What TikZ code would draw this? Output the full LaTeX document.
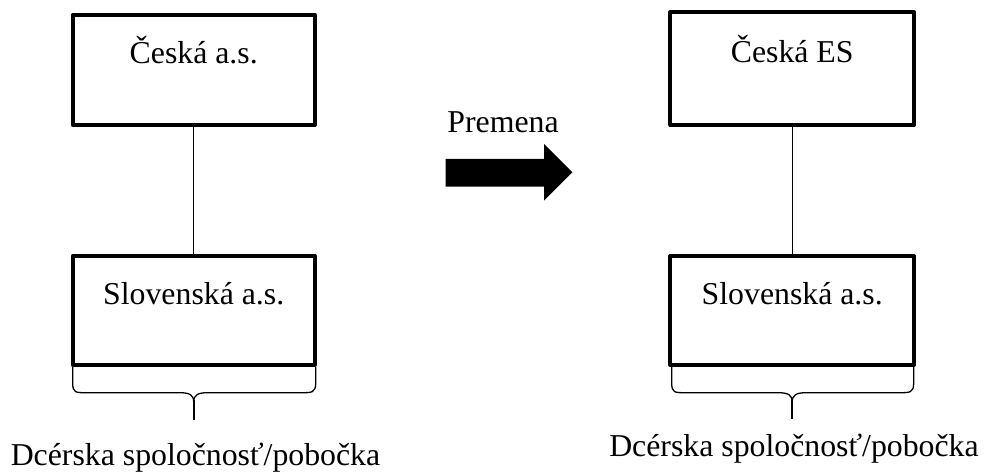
\documentclass[tikz,border=0pt]{standalone}
\usepackage{fontspec}
\setmainfont{Liberation Serif}
\usetikzlibrary{calc}
\tikzset{
  orgbox/.style={draw=black, line width=4pt, line join=round, inner sep=0pt, fill=white},
  txt/.style={inner sep=0pt, anchor=base, font=\fontsize{31.8}{38}\selectfont},
  link/.style={draw=black, line width=1.3pt},
  bracel/.style={draw=black, line width=1.3pt},
  bracetail/.style={draw=black, line width=2pt},
}
\begin{document}
\begin{tikzpicture}[x=1pt,y=-1pt]
\useasboundingbox[fill=white] (0,0) rectangle (984,473);
% left group
\node[orgbox, minimum width=242pt, minimum height=110pt] (ca) at (193.7,70) {};
\node[orgbox, minimum width=242pt, minimum height=109pt] (sa) at (193.7,310.5) {};
\node[txt] (cat) at (193.7,64) {Česká a.s.};
\node[txt] (sat) at (193.7,304) {Slovenská a.s.};
\draw[link] (ca.south) -- (sa.north);
\begin{scope}[shift={(sa.south)}]
  \draw[bracel] (-121,0) -- (-121,16) .. controls (-121,25.7) and (-118,25.7) .. (-108,25.7) -- (-14,25.7) .. controls (-4,25.7) and (0,28) .. (0,35);
  \draw[bracel] (0,35) .. controls (0,28) and (4,25.7) .. (14,25.7) -- (108,25.7) .. controls (118,25.7) and (122,25.7) .. (122,16) -- (122,0);
  \draw[bracetail] (0,33) -- (0,53);
\end{scope}
\node[txt] (dl) at (195.5,465) {Dcérska spoločnosť/pobočka};
% arrow
\node[txt] (prem) at (503,133) {Premena};
\fill[black] (445.7,159) -- (544,159) -- (544,144) -- (572.3,172.3) -- (544,200.7) -- (544,186.7) -- (445.7,186.7) -- cycle;
% right group
\node[orgbox, minimum width=243.7pt, minimum height=113pt] (ce) at (792.2,68.5) {};
\node[orgbox, minimum width=243.7pt, minimum height=109pt] (sb) at (792.2,310.5) {};
\node[txt] (cet) at (792.2,63) {Česká ES};
\node[txt] (sbt) at (792.2,304) {Slovenská a.s.};
\draw[link] (ce.south) -- (sb.north);
\begin{scope}[shift={(sb.south)}]
  \draw[bracel] (-120.5,0) -- (-120.5,16) .. controls (-120.5,25.7) and (-117.5,25.7) .. (-107.5,25.7) -- (-14,25.7) .. controls (-4,25.7) and (0,28) .. (0,35);
  \draw[bracel] (0,35) .. controls (0,28) and (4,25.7) .. (14,25.7) -- (107.5,25.7) .. controls (117.5,25.7) and (121.5,25.7) .. (121.5,16) -- (121.5,0);
  \draw[bracetail] (0,33) -- (0,52);
\end{scope}
\node[txt] (dr) at (794,456.5) {Dcérska spoločnosť/pobočka};
\end{tikzpicture}
\end{document}
